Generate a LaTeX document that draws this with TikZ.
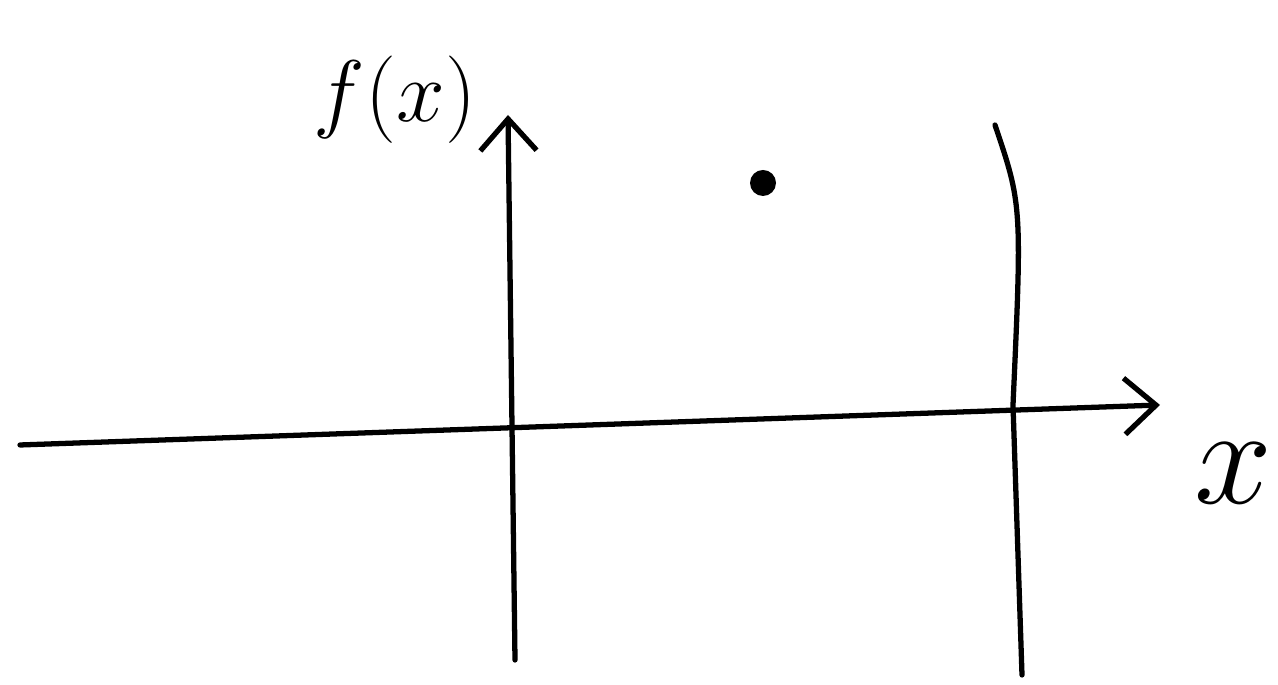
\documentclass[tikz,border=0pt]{standalone}
\usetikzlibrary{arrows.meta}
\tikzset{
  axis/.style={line width=1.5pt, line cap=round, -{Straight Barb[length=9pt,width=16pt,line width=1.5pt]}},
  wall/.style={line width=1.5pt, line cap=round},
  biglabel/.style={font=\fontsize{30}{32}\selectfont}
}
\begin{document}
\begin{tikzpicture}
    \useasboundingbox (0,0) rectangle (12.78,6.85);

    % Axes
    \coordinate (xstart) at (0.2,2.40);
    \coordinate (xend) at (11.6,2.80);
    \coordinate (ystart) at (5.15,0.25);
    \coordinate (yend) at (5.08,5.70);
    \draw[axis] (xstart) -- (xend);
    \draw[axis] (ystart) -- (yend);
    \node[biglabel] (ylabel) at (3.95,5.85) {$f(x)$};
    \node[biglabel, scale=1.6] (xlabel) at (12.33,2.12) {$x$};

    % Vertical line on the right
    \draw[wall] (9.95,5.60) .. controls (10.22,4.8) .. (10.13,2.8) -- (10.22,0.1);

    % Point
    \fill (7.63,5.02) circle (0.13);
\end{tikzpicture}
\end{document}
